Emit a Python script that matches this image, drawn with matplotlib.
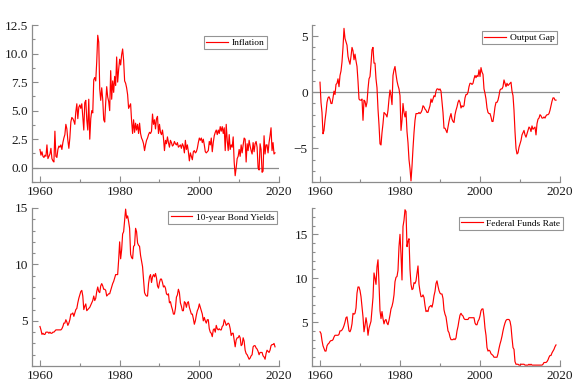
import matplotlib
matplotlib.use("Agg")
import matplotlib.pyplot as plt
from matplotlib.ticker import MultipleLocator, FormatStrFormatter
import numpy as np

plt.rcParams["font.family"] = ["Liberation Serif", "DejaVu Serif"]

# quarterly observations, 1960Q1 .. 2019Q1
START_YEAR = 1960

inflation = [
    1.6, 1.1, 1.4, 1.0,  0.9, 1.1, 1.0, 2.0,  0.8, 1.0, 1.2, 1.7,  0.8, 0.6, 0.5, 3.2,
    1.0, 0.9, 1.6, 1.9,  1.8, 2.0, 1.6, 2.2,  2.6, 2.9, 3.8, 3.4,  2.4, 1.7, 2.6, 4.0,
    4.4, 4.3, 4.1, 3.8,  4.9, 5.6, 4.3, 5.3,  5.5, 5.2, 5.6, 4.5,  3.3, 5.7, 5.9, 4.2,
    3.3, 6.0, 2.5, 4.3,  5.0, 4.8, 7.7, 7.9,  7.6, 9.3, 11.6, 11.0, 6.9, 5.9, 7.0, 6.0,
    4.2, 4.0, 5.7, 7.1,  6.2, 5.8, 5.0, 8.5,  6.0, 7.6, 6.6, 8.0,  7.2, 9.7, 7.5, 8.6,
    9.5, 9.0, 9.9, 10.4, 9.4, 7.6, 7.4, 7.0,  6.4, 5.2, 5.4, 5.6,  4.1, 3.0, 4.2, 3.1,
    3.9, 3.3, 3.8, 3.0,  3.9, 3.0, 2.6, 2.4,  2.1, 1.5, 2.0, 2.4,  2.6, 2.9, 3.1, 3.0,
    3.2, 4.7, 3.8, 4.2,  3.4, 4.3, 4.5, 3.0,  3.8, 3.1, 2.9, 3.3,  2.6, 1.5, 2.4, 2.1,
    2.7, 2.2, 1.8, 2.4,  2.2, 1.9, 2.0, 2.3,  2.1, 2.0, 2.2, 1.8,  1.9, 2.0, 1.7, 2.1,
    1.9, 1.3, 2.4, 1.6,  2.0, 1.4, 0.6, 1.3,  1.0, 0.7, 1.4, 1.5,  1.3, 1.4, 1.7, 2.2,
    2.6, 2.4, 2.6, 2.2,  2.5, 2.0, 1.4, 1.3,  1.4, 1.5, 2.3, 2.0,  2.6, 1.4, 2.2, 2.8,
    3.1, 3.3, 2.9, 3.3,  3.0, 3.6, 3.2, 3.6,  3.0, 3.5, 1.5, 3.8,  2.4, 1.5, 2.9, 1.6,
    2.0, 1.8, 2.7, 0.5, -0.7, 0.0, 0.8, 1.0,  1.6, 1.0, 2.0, 1.3,  2.0, 2.6, 2.5, 0.5,
    2.1, 1.5, 2.4, 1.9,  1.5, 1.2, 2.2, 1.4,  2.1, 2.3, 1.8, 0.0, -0.2, 2.1, 1.6, -0.4,
    -0.3, 2.8, 1.2, 2.0, 2.0, 1.3, 2.2, 2.8,  3.5, 1.5, 2.2, 1.2,  1.3,
]

output_gap = [
    0.9, -0.9, -1.8, -3.7, -3.4, -2.5, -1.8, -0.9, -0.5, -0.4, -0.6, -1.0, -1.0, -0.5, 0.1, -0.2,
    0.7, 0.8, 1.2, 0.5,  1.5, 1.9, 2.7, 4.0,  5.7, 4.8, 4.5, 4.2,  3.2, 2.8, 2.5, 3.2,
    4.0, 3.7, 2.9, 3.4,  2.8, 2.3, 1.0, -0.6, -0.7, -0.7, -0.6, -2.5, -0.7, -0.8, -1.3, -0.9,
    0.3, 1.2, 1.4, 2.5,  3.8, 4.0, 2.6, 2.6,  1.2, 0.4, -1.5, -2.9, -4.6, -4.7, -3.6, -2.8,
    -1.8, -1.9, -2.0, -2.2, -1.6, -0.6, 0.2, -0.3, -1.1, 1.5, 2.0, 2.3,  1.6, 1.0, 0.6, 0.3,
    -0.3, -3.4, -2.5, -1.0, -1.8, -2.2, -1.7, -3.5, -4.5, -6.0, -6.8, -7.9, -6.6, -5.0, -3.6, -2.5,
    -1.9, -1.9, -1.9, -1.8, -1.9, -1.8, -1.6, -1.2, -1.3, -1.5, -1.6, -1.8, -1.8, -1.5, -1.2, -0.6,
    -0.9, -0.6, -0.3, -0.4, 0.1, 0.3, 0.3, 0.2,  0.3, 0.1, -0.8, -1.8, -3.2, -3.2, -3.4, -3.6,
    -3.1, -2.6, -2.2, -1.9, -2.4, -2.6, -2.7, -2.0, -1.6, -1.3, -0.9, -0.7, -0.9, -1.4, -1.2, -1.3,
    -1.2, -0.5, -0.2, -0.2, 0.0, 0.5, 0.8, 0.8,  0.7, 0.8, 1.2, 1.5,  1.3, 1.5, 1.4, 2.0,
    1.4, 2.2, 1.8, 1.6,  0.3, -0.1, -0.6, -1.4, -1.8, -1.9, -1.9, -2.2, -2.6, -2.6, -2.0, -1.3,
    -0.9, -0.9, -0.7, -0.3, 0.2, 0.3, 0.3, 0.5,  1.1, 0.8, 0.5, 0.8,  0.6, 0.7, 0.8, 0.9,
    0.1, -0.3, -1.6, -3.5, -5.0, -5.5, -5.4, -4.9, -4.6, -4.3, -3.8, -3.6, -3.4, -3.8, -4.0, -3.7,
    -3.4, -3.1, -3.2, -3.5, -3.0, -3.3, -3.2, -3.1, -3.8, -2.8, -2.4, -2.3, -2.0, -2.1, -2.3, -2.3,
    -2.2, -2.3, -2.1, -2.0, -2.0, -1.9, -1.6, -1.2, -0.8, -0.5, -0.5, -0.7, -0.7,
]

bond_yields = [
    4.5, 4.2, 3.8, 3.9,  3.8, 3.8, 4.0, 4.0,  4.0, 3.9, 4.0, 3.9,  3.9, 4.0, 4.0, 4.1,
    4.2, 4.2, 4.2, 4.2,  4.2, 4.2, 4.3, 4.5,  4.8, 4.8, 5.1, 4.9,  4.6, 4.8, 5.1, 5.6,
    5.6, 5.7, 5.4, 5.7,  6.0, 6.1, 6.6, 7.0,  7.3, 7.6, 7.7, 7.2,  6.0, 6.3, 6.5, 5.9,
    6.0, 6.1, 6.2, 6.4,  6.6, 6.8, 7.2, 6.8,  7.0, 7.6, 8.0, 7.6,  7.5, 8.1, 8.3, 8.1,
    7.8, 7.8, 7.7, 7.2,  7.3, 7.4, 7.4, 7.7,  8.0, 8.3, 8.5, 8.8,  9.1, 9.1, 9.1, 10.4,
    12.0, 10.5, 11.3, 12.7, 12.9, 13.9, 14.9, 14.1, 14.3, 13.8, 13.2, 10.9, 10.6, 10.5, 11.6, 11.7,
    13.2, 12.9, 11.9, 11.7, 11.6, 10.8, 10.3, 9.8, 8.6, 7.5, 7.3, 7.2,  7.2, 8.3, 8.9, 9.1,
    8.4, 8.9, 9.1, 8.9,  9.2, 8.8, 8.1, 7.9,  8.4, 8.7, 8.7, 8.4,  8.0, 8.1, 7.9, 7.4,
    7.3, 7.4, 6.6, 6.7,  6.3, 6.0, 5.6, 5.6,  6.1, 7.1, 7.3, 7.8,  7.5, 6.6, 6.3, 5.9,
    5.9, 6.7, 6.6, 6.2,  6.6, 6.7, 6.2, 5.9,  5.6, 5.6, 5.2, 4.7,  5.0, 5.5, 5.9, 6.1,
    6.5, 6.2, 5.9, 5.6,  5.0, 5.3, 5.0, 4.8,  5.1, 5.1, 4.3, 4.0,  3.9, 3.6, 4.2, 4.3,
    4.0, 4.6, 4.3, 4.2,  4.3, 4.2, 4.2, 4.5,  4.6, 5.1, 4.9, 4.6,  4.7, 4.8, 4.7, 4.3,
    3.7, 3.9, 3.9, 3.3,  2.7, 3.3, 3.5, 3.5,  3.7, 3.5, 2.8, 2.9,  3.5, 3.2, 2.4, 2.1,
    2.0, 1.8, 1.6, 1.7,  1.9, 2.0, 2.7, 2.8,  2.8, 2.6, 2.5, 2.3,  2.0, 2.2, 2.2, 2.2,
    1.9, 1.8, 1.6, 2.1,  2.4, 2.3, 2.2, 2.4,  2.8, 2.9, 2.9, 3.0,  2.7,
]

fed_funds = [
    3.9, 3.7, 2.9, 2.3,  2.0, 1.7, 1.7, 2.3,  2.5, 2.6, 2.8, 2.9,  2.9, 3.0, 3.3, 3.5,
    3.5, 3.5, 3.5, 3.6,  4.0, 4.0, 4.1, 4.3,  4.6, 5.0, 5.5, 5.6,  4.8, 4.0, 3.9, 4.2,
    4.8, 6.0, 5.9, 6.0,  6.6, 8.3, 9.0, 9.0,  8.6, 7.9, 6.7, 5.6,  3.9, 4.6, 5.5, 4.8,
    3.5, 4.3, 4.7, 5.1,  6.5, 7.8, 10.6, 10.0, 9.3, 11.3, 12.1, 9.4, 6.3, 5.4, 6.2, 5.4,
    4.8, 5.2, 5.3, 4.9,  4.7, 5.2, 5.8, 6.5,  6.8, 7.3, 8.1, 9.6,  10.1, 10.2, 10.9, 13.6,
    15.0, 12.7, 9.8, 15.9, 16.6, 17.8, 17.6, 13.6, 14.2, 14.5, 11.0, 9.3, 8.7, 8.8, 9.5, 9.4,
    9.7, 10.6, 11.4, 9.3, 8.5, 7.9, 7.9, 8.1,  7.8, 6.9, 6.2, 6.3,  6.2, 6.7, 6.8, 6.9,
    6.7, 7.2, 8.0, 8.5,  9.4, 9.7, 9.1, 8.6,  8.3, 8.2, 8.2, 7.7,  6.4, 5.9, 5.6, 4.8,
    4.0, 3.8, 3.3, 3.0,  3.0, 3.0, 3.1, 3.0,  3.2, 4.0, 4.5, 5.2,  5.8, 6.0, 5.8, 5.7,
    5.4, 5.3, 5.3, 5.3,  5.3, 5.5, 5.5, 5.5,  5.5, 5.5, 5.5, 4.9,  4.7, 4.7, 5.1, 5.3,
    5.7, 6.3, 6.5, 6.5,  5.6, 4.3, 3.5, 2.1,  1.7, 1.8, 1.7, 1.4,  1.3, 1.2, 1.0, 1.0,
    1.0, 1.0, 1.4, 2.0,  2.5, 2.9, 3.4, 4.0,  4.5, 4.9, 5.2, 5.3,  5.3, 5.3, 5.1, 4.5,
    3.2, 2.1, 1.9, 0.5,  0.2, 0.2, 0.2, 0.1,  0.1, 0.2, 0.2, 0.2,  0.2, 0.1, 0.1, 0.1,
    0.1, 0.2, 0.1, 0.2,  0.1, 0.1, 0.1, 0.1,  0.1, 0.1, 0.1, 0.1,  0.1, 0.1, 0.1, 0.2,
    0.4, 0.4, 0.4, 0.5,  0.7, 1.0, 1.2, 1.2,  1.5, 1.7, 1.9, 2.2,  2.4,
]

labels = ["Inflation", "Output Gap", "10-year Bond Yields", "Federal Funds Rate"]

W, H = 585, 391
GREY = "#8c8c8c"


def make_axes(fig, x0, y0, x1, y1):
    # pixel box -> figure fraction
    return fig.add_axes([x0 / W, 1 - y1 / H, (x1 - x0) / W, (y1 - y0) / H])


def style(ax, ylim, major, minor, fmt=None, legend_xy=(1, 1)):
    ax.set_xlim(1958, 2020)
    ax.set_ylim(*ylim)
    for s in ["top", "right"]:
        ax.spines[s].set_visible(False)
    for s in ["left", "bottom"]:
        ax.spines[s].set_color(GREY)
        ax.spines[s].set_linewidth(0.9)
    ax.xaxis.set_major_locator(MultipleLocator(20))
    ax.xaxis.set_minor_locator(MultipleLocator(10))
    ax.yaxis.set_major_locator(MultipleLocator(major))
    ax.yaxis.set_minor_locator(MultipleLocator(minor))
    if fmt:
        ax.yaxis.set_major_formatter(FormatStrFormatter(fmt))
    ax.tick_params(which="both", direction="in", color=GREY, labelsize=9.6,
                   labelcolor="#1a1a1a", width=0.8)
    ax.tick_params(which="major", length=4, pad=3)
    ax.tick_params(which="minor", length=2.2)
    leg = ax.legend(loc="upper right", bbox_to_anchor=legend_xy, fontsize=6.8,
                    frameon=True, fancybox=False, handlelength=2.3,
                    handletextpad=0.4, borderpad=0.25, borderaxespad=0)
    leg.get_frame().set_edgecolor("#7a7a7a")
    leg.get_frame().set_linewidth(0.8)


fig = plt.figure(figsize=(W / 100, H / 100), dpi=100)

ax1 = make_axes(fig, 32, 25, 279, 182)
ax1.axhline(0, color=GREY, lw=0.9)
ax1.plot(START_YEAR + np.arange(len(inflation)) / 4, inflation,
         color="red", lw=0.85, label=labels[0])
style(ax1, (-1.25, 12.5), 2.5, 1.25, "%.1f", (0.951, 0.93))

ax2 = make_axes(fig, 312, 25, 560, 182)
ax2.axhline(0, color=GREY, lw=0.9)
ax2.plot(START_YEAR + np.arange(len(output_gap)) / 4, output_gap,
         color="red", lw=0.85, label=labels[1])
style(ax2, (-8, 6), 5, 1, None, (0.988, 0.962))

ax3 = make_axes(fig, 32, 208, 279, 366)
ax3.plot(START_YEAR + np.arange(len(bond_yields)) / 4, bond_yields,
         color="red", lw=0.85, label=labels[2])
style(ax3, (1, 15), 5, 1, None, (0.992, 0.983))
ax3.set_yticks([5, 10, 15])

ax4 = make_axes(fig, 312, 208, 560, 366)
ax4.plot(START_YEAR + np.arange(len(fed_funds)) / 4, fed_funds,
         color="red", lw=0.85, label=labels[3])
style(ax4, (0, 18), 5, 1, None, (1.012, 0.945))
ax4.set_yticks([5, 10, 15])

fig.savefig("out.png", dpi=100)
